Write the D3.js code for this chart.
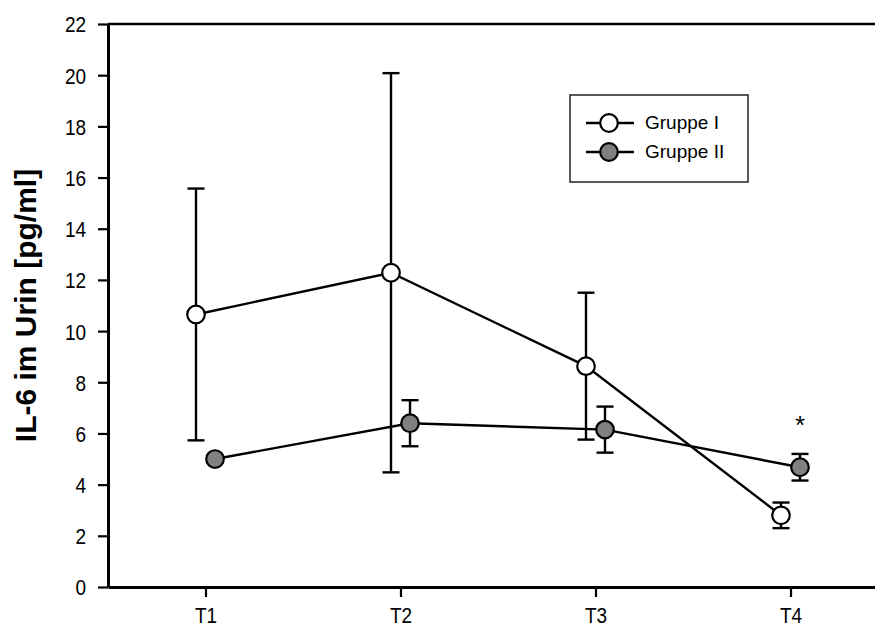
<!DOCTYPE html>
<html>
<head>
<meta charset="utf-8">
<script src="https://cdn.jsdelivr.net/npm/d3@7"></script>
<style>
  body { margin: 0; background: #fff; }
  text { font-family: "Liberation Sans", Arial, sans-serif; fill: #000; }
</style>
</head>
<body>
<div id="my_dataviz"></div>
<script>
// data
var timepoints = ["T1", "T2", "T3", "T4"];
var gruppe1Mean = [10.65, 12.28, 8.63, 2.8];
var gruppe1Err  = [4.92, 7.8, 2.87, 0.5];
var gruppe2Mean = [5.0, 6.4, 6.15, 4.68];
var gruppe2Err  = [0.1, 0.9, 0.9, 0.52];
var groupNames  = ["Gruppe I", "Gruppe II"];
var groupFill   = ["#ffffff", "#808080"];
var yTicks = [0, 2, 4, 6, 8, 10, 12, 14, 16, 18, 20, 22];
var starPoint = {t: 4, value: 6.55};

var Width = 875, Height = 630;
var margin = {top: 24, left: 108, bottom: 43};
var plotRight = 888; // the frame runs off the right edge

var svg = d3.select("#my_dataviz")
  .append("svg")
    .attr("width", Width)
    .attr("height", Height);

var x = d3.scaleLinear()
  .domain([0.5, 4.5])
  .range([margin.left, plotRight]);

var y = d3.scaleLinear()
  .domain([0, 22])
  .range([Height - margin.bottom, margin.top]);

// offset of the two groups around each time point
var dx = [-9.5, 9.5];
// the tick text in the original is a bit taller than wide
var stretch = 1.2;

// top frame line
svg.append("line")
  .attr("x1", x(0.5)).attr("x2", plotRight)
  .attr("y1", y(22)).attr("y2", y(22))
  .attr("stroke", "#000").attr("stroke-width", 2.5);

// Y axis
var yAxis = svg.append("g")
  .attr("transform", "translate(" + margin.left + ",0)")
  .call(d3.axisLeft(y).tickValues(yTicks).tickSize(10).tickSizeOuter(0).tickPadding(12));

// X axis
var xAxis = svg.append("g")
  .attr("transform", "translate(0," + y(0) + ")")
  .call(d3.axisBottom(x).tickValues([1, 2, 3, 4])
    .tickFormat(function(d) { return timepoints[d - 1]; })
    .tickSize(10).tickSizeOuter(0));

svg.selectAll(".domain").attr("stroke", "#000").attr("stroke-width", 3);
svg.selectAll(".tick line").attr("stroke", "#000").attr("stroke-width", 2.2);
svg.selectAll(".tick text")
  .style("font-size", "19px")
  .style("font-family", "'Liberation Sans', Arial, sans-serif")
  .attr("fill", "#000")
  .attr("transform", "scale(1," + stretch + ")");
yAxis.selectAll(".tick text").attr("dy", "0.35em");
xAxis.selectAll(".tick text").attr("dy", 0).attr("y", 36.5 / stretch);

// Y label
svg.append("text")
  .attr("transform", "translate(36," + ((y(0) + y(22)) / 2) + ") rotate(-90)")
  .attr("text-anchor", "middle")
  .style("font-size", "30px")
  .style("font-weight", "bold")
  .text("IL-6 im Urin [pg/ml]");

var groups = [
  timepoints.map(function(t, i) { return {t: i + 1, mean: gruppe1Mean[i], err: gruppe1Err[i]}; }),
  timepoints.map(function(t, i) { return {t: i + 1, mean: gruppe2Mean[i], err: gruppe2Err[i]}; })
];

var line = d3.line()
  .x(function(d) { return d.px; })
  .y(function(d) { return y(d.mean); });

var capW = 8.5;

groups.forEach(function(data, g) {
  data.forEach(function(d) { d.px = x(d.t) + dx[g]; });

  var gg = svg.append("g");

  // error bars
  var eb = gg.selectAll(".err")
    .data(data)
    .enter().append("g")
    .attr("stroke", "#000").attr("stroke-width", 2.4);
  eb.append("line")
    .attr("x1", function(d) { return d.px; }).attr("x2", function(d) { return d.px; })
    .attr("y1", function(d) { return y(d.mean + d.err); })
    .attr("y2", function(d) { return y(d.mean - d.err); });
  eb.append("line")
    .attr("x1", function(d) { return d.px - capW; }).attr("x2", function(d) { return d.px + capW; })
    .attr("y1", function(d) { return y(d.mean + d.err); })
    .attr("y2", function(d) { return y(d.mean + d.err); });
  eb.append("line")
    .attr("x1", function(d) { return d.px - capW; }).attr("x2", function(d) { return d.px + capW; })
    .attr("y1", function(d) { return y(d.mean - d.err); })
    .attr("y2", function(d) { return y(d.mean - d.err); });

  gg.append("path")
    .datum(data)
    .attr("d", line)
    .attr("fill", "none")
    .attr("stroke", "#000")
    .attr("stroke-width", 2.4);
});

// markers on top
groups.forEach(function(data, g) {
  svg.append("g")
    .selectAll("circle")
    .data(data)
    .enter().append("circle")
      .attr("cx", function(d) { return d.px; })
      .attr("cy", function(d) { return y(d.mean); })
      .attr("r", 8.8)
      .attr("fill", groupFill[g])
      .attr("stroke", "#000")
      .attr("stroke-width", 2.2);
});

// significance star
svg.append("text")
  .attr("x", x(starPoint.t) + dx[1])
  .attr("y", y(starPoint.value) + 15)
  .attr("text-anchor", "middle")
  .style("font-size", "26px")
  .text("*");

// Handmade legend
var legend = svg.append("g");
legend.append("rect")
  .attr("x", 570).attr("y", 95).attr("width", 178).attr("height", 87)
  .attr("fill", "#fff").attr("stroke", "#222").attr("stroke-width", 1.5);
groupNames.forEach(function(name, i) {
  var ly = 123 + i * 29;
  legend.append("line")
    .attr("x1", 586).attr("x2", 634).attr("y1", ly).attr("y2", ly)
    .attr("stroke", "#000").attr("stroke-width", 2.4);
  legend.append("circle")
    .attr("cx", 609).attr("cy", ly).attr("r", 8.8)
    .attr("fill", groupFill[i]).attr("stroke", "#000").attr("stroke-width", 2.2);
  legend.append("text")
    .attr("x", 645).attr("y", ly + 6)
    .style("font-size", "19px")
    .text(name);
});
</script>
</body>
</html>
